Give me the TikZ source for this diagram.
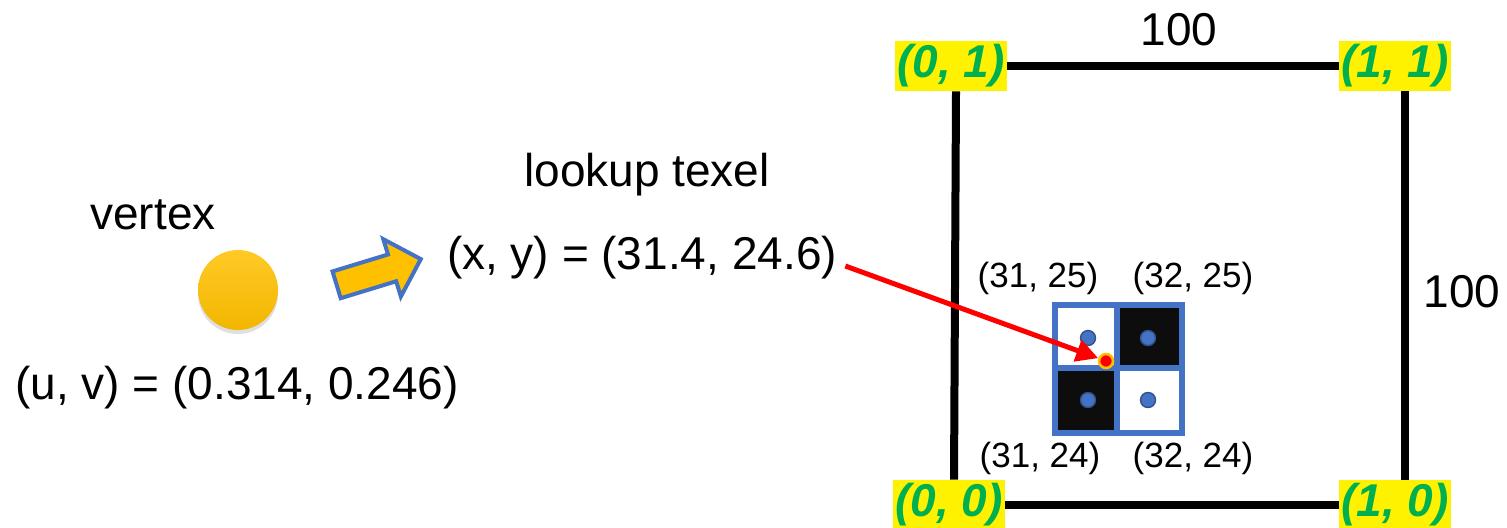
\documentclass[tikz,border=0pt]{standalone}
\usepackage{fontspec}
\setmainfont{Liberation Sans}
\usetikzlibrary{arrows.meta, shapes.arrows, shadows, calc}
\definecolor{texblue}{HTML}{4472C4}
\definecolor{texgold}{HTML}{FFC000}
\definecolor{texgreen}{HTML}{00B050}
\definecolor{texcell}{HTML}{0D0D0D}

\begin{document}
\begin{tikzpicture}[x=0.5pt, y=-0.5pt,
  txt/.style={inner sep=0pt, font=\fontsize{23}{28}\selectfont},
  sm/.style={inner sep=0pt, font=\fontsize{17.5}{21}\selectfont},
  uvc/.style={fill=yellow, text=texgreen, inner sep=1pt, minimum height=25pt,
    font=\fontsize{23}{28}\selectfont\bfseries\itshape},
  side/.style={line width=4pt},
  dot/.style={circle, fill=texblue, draw=texblue!70!black, line width=0.7pt, minimum size=7.5pt, inner sep=0pt}]
  \useasboundingbox (0,0) rectangle (1507,527);
  % left: vertex and uv
  \node[txt] (vtx) at (153,215) {vertex};
  \node[circle, minimum size=40pt, inner sep=0pt, top color=texgold!85!white, bottom color=texgold!95!black,
    drop shadow={shadow xshift=0pt, shadow yshift=-2pt, opacity=0.25}] (ball) at (238,290) {};
  \node[txt] (uv) at (237,388) {(u, v) = (0.314, 0.246)};
  \node[single arrow, draw=texblue, fill=texgold, line width=2pt, inner sep=6pt,
    minimum height=44pt, single arrow head extend=8pt, rotate=17] (blk) at (372,274) {};
  % middle: texel lookup
  \node[txt] (look) at (647,175) {lookup texel};
  \node[txt] (xy) at (642,258) {(x, y) = (31.4, 24.6)};
  % right: texture square
  \node[uvc] (c01) at (951,66) {(0, 1)};
  \node[uvc] (c11) at (1395,66) {(1, 1)};
  \node[uvc] (c00) at (949,505) {(0, 0)};
  \node[uvc] (c10) at (1395,505) {(1, 0)};
  \draw[side] (c01.east) -- (c11.west);
  \draw[side] (c00.east) -- (c10.west);
  \draw[side] ([xshift=2.5pt]c01.south) -- ([xshift=2.5pt]c00.north);
  \draw[side] ([xshift=5pt]c11.south) -- ([xshift=5pt]c10.north);
  \node[txt] (wdt) at (1179,30) {100};
  \node[txt] (hgt) at (1462,292) {100};
  % texels
  \fill[texcell] (1117,305) rectangle (1182,368);
  \fill[texcell] (1055,368) rectangle (1117,433);
  \draw[texblue, line width=3pt] (1055,305) rectangle (1182,433)
    (1117,305) -- (1117,433) (1055,368) -- (1182,368);
  \node[dot] (t1) at (1088,338) {};
  \node[dot] (t2) at (1148,338) {};
  \node[dot] (t3) at (1088,400) {};
  \node[dot] (t4) at (1148,400) {};
  \node[sm] (l1) at (1038,278) {(31, 25)};
  \node[sm] (l2) at (1193,278) {(32, 25)};
  \node[sm] (l3) at (1040,458) {(31, 24)};
  \node[sm] (l4) at (1193,458) {(32, 24)};
  \node[circle, fill=red, draw=texgold, line width=1.3pt, minimum size=7pt, inner sep=0pt] (hit) at (1106,361) {};
  \draw[red, line width=2.5pt, -{Triangle[length=11pt, width=11pt]}] ([shift={(8,8)}]xy.east) -- (hit);
\end{tikzpicture}
\end{document}
